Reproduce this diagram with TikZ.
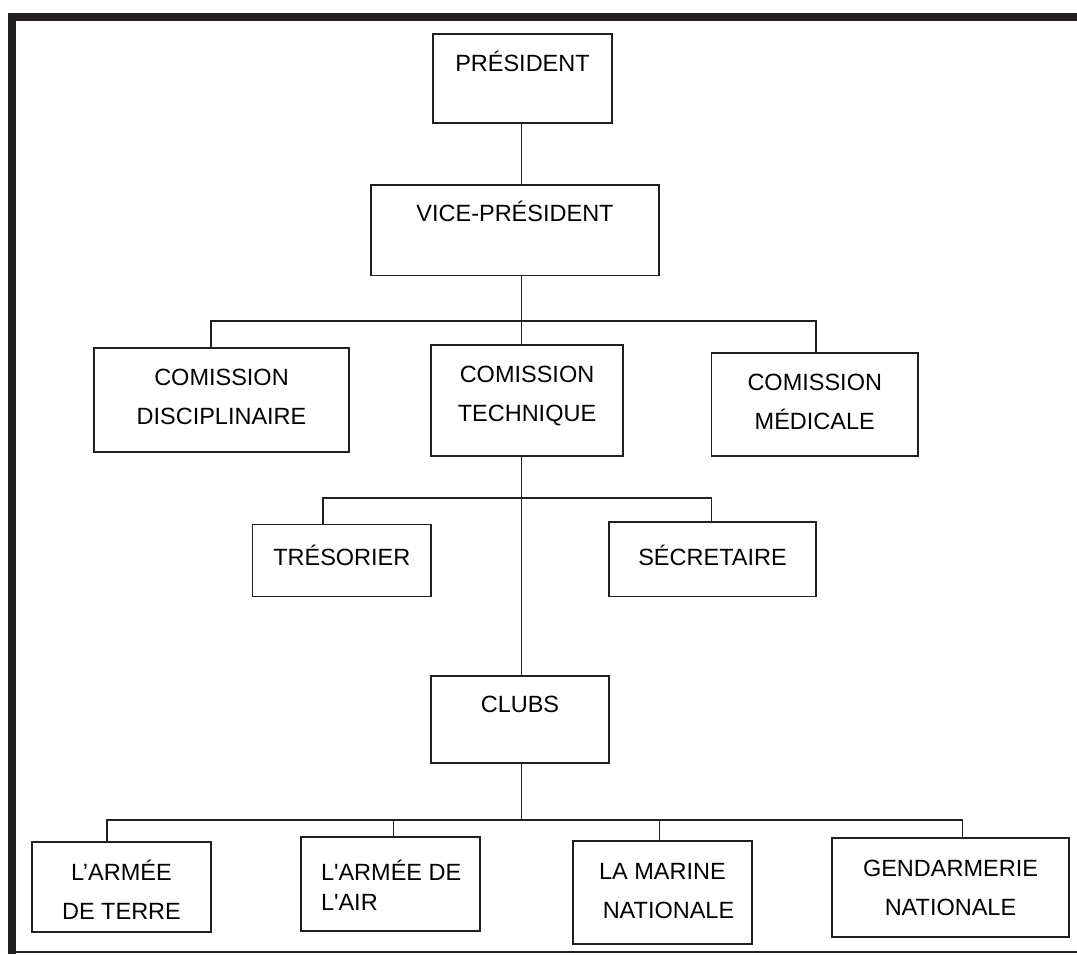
\documentclass[tikz,border=0pt]{standalone}
\usepackage{fontspec}
\setmainfont{Liberation Sans}
\definecolor{ink}{RGB}{35,31,32}
\newcommand\bxt[4]{\parbox[c][#2pt][t]{#1pt}{\centering\fontsize{23.5}{39}\selectfont\rule{0pt}{#3pt}#4}}
\begin{document}
\begin{tikzpicture}[x=1pt,y=-1pt,
  box/.style={draw=ink, line width=1.6pt, inner sep=0pt, outer sep=0pt, anchor=north west},
  conn/.style={draw=ink, line width=1.6pt}]
\useasboundingbox (0,0) rectangle (1077,954);
\fill[white] (0,0) rectangle (1077,954);
% frame
\draw[ink, line width=8pt] (12.3,954) -- (12.3,16.5) -- (1077,16.5);
\draw[ink, line width=1.6pt] (8.3,952) -- (1077,952);
% boxes
\node[box] (pres) at (433,34) {\bxt{179}{89}{37}{PRÉSIDENT}};
\node[box] (vp) at (371,185) {\bxt{288}{90.5}{36.4}{VICE-PRÉSIDENT}};
\node[box] (disc) at (94,348) {\bxt{255}{104}{37}{COMISSION\\DISCIPLINAIRE}};
\node[box] (tech) at (431,345) {\bxt{192}{111}{37.4}{COMISSION\\TECHNIQUE}};
\node[box] (med) at (711.5,353) {\bxt{206.5}{103}{37}{COMISSION\\MÉDICALE}};
\node[box] (tres) at (252.6,524.6) {\bxt{178.4}{72}{40.8}{TRÉSORIER}};
\node[box] (sec) at (609,522) {\bxt{207}{74.6}{43}{SÉCRETAIRE}};
\node[box] (clubs) at (431,676) {\bxt{178}{87}{36.4}{CLUBS}};
\node[box] (terre) at (32,842) {\bxt{179}{90}{38.7}{L’ARMÉE\\DE TERRE}};
\node[box] (air) at (301,837) {\parbox[c][94pt][t]{179pt}{\raggedright\fontsize{23.5}{30}\selectfont\hspace*{20pt}\rule{0pt}{43.7pt}L\textquotesingle ARMÉE DE\\\hspace*{20pt}L\textquotesingle AIR}};
\node[box] (marine) at (573,841) {\bxt{179}{103}{38.3}{LA MARINE\\\hspace*{12pt}NATIONALE}};
\node[box] (gend) at (832,838) {\bxt{237}{99}{38}{GENDARMERIE\\NATIONALE}};
% bus coordinates
\coordinate (ba) at (521.5,321);
\coordinate (ba1) at (211,321);
\coordinate (ba3) at (815.7,321);
\coordinate (bb) at (521.5,498);
\coordinate (bb1) at (323,498);
\coordinate (bb2) at (711.5,498);
\coordinate (bc) at (521.5,820);
\coordinate (bc1) at (106.7,820);
\coordinate (bc2) at (393.3,820);
\coordinate (bc3) at (659.3,820);
\coordinate (bc4) at (962.3,820);
% connectors
\draw[conn] (pres.south -| ba) -- (vp.north -| ba);
\draw[conn] (vp.south -| ba) -- (ba);
\draw[conn] (ba1 |- disc.north) -- (ba1) -- (ba3) -- (ba3 |- med.north);
\draw[conn] (ba) -- (ba |- tech.north);
\draw[conn] (tech.south -| bb) -- (clubs.north -| bb);
\draw[conn] (bb1 |- tres.north) -- (bb1) -- (bb2) -- (bb2 |- sec.north);
\draw[conn] (clubs.south -| bc) -- (bc);
\draw[conn] (bc1 |- terre.north) -- (bc1) -- (bc4) -- (bc4 |- gend.north);
\draw[conn] (bc2) -- (bc2 |- air.north);
\draw[conn] (bc3) -- (bc3 |- marine.north);
\end{tikzpicture}
\end{document}
